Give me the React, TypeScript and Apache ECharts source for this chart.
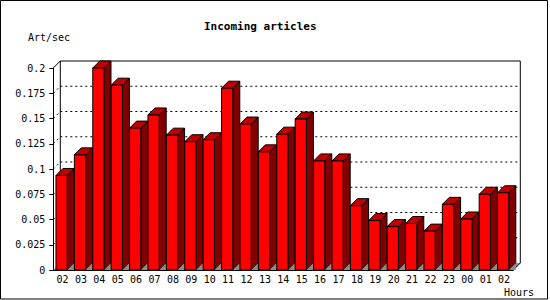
import React, { useEffect, useRef } from "react";
import * as echarts from "echarts";

const hours = ["02","03","04","05","06","07","08","09","10","11","12","13","14","15","16","17","18","19","20","21","22","23","00","01","02"];
const artPerSec = [0.0936,0.114,0.2,0.183,0.1405,0.1535,0.1335,0.127,0.129,0.18,0.1445,0.117,0.1345,0.1495,0.108,0.108,0.0637,0.049,0.043,0.046,0.0385,0.065,0.0505,0.075,0.0765];
const gridTicks = [0.025,0.05,0.075,0.1,0.125,0.15,0.175];
const yMax = 0.2;
const yStep = 0.025;

const DEPTH = 7;
const FONT = "DejaVu Sans Mono";

export default function App() {
  const ref = useRef<HTMLDivElement>(null);
  useEffect(() => {
    if (!ref.current) return;
    const chart = echarts.init(ref.current, null, { renderer: "svg" });
    const d = DEPTH;
    chart.setOption({
      animation: false,
      backgroundColor: "#fff",
      title: {
        text: "Incoming articles",
        left: 204,
        top: 21,
        padding: 0,
        textStyle: { fontFamily: FONT, fontWeight: "bold", fontSize: 11, color: "#000" },
      },
      grid: { left: 53.3, right: 36.7, top: 68, bottom: 30 },
      xAxis: {
        type: "category",
        data: hours,
        z: 10,
        axisLine: { lineStyle: { color: "#000", width: 1 } },
        axisTick: { length: 4, lineStyle: { color: "#000" } },
        axisLabel: { fontFamily: FONT, fontSize: 10, color: "#000", margin: 4, interval: 0 },
      },
      yAxis: {
        type: "value",
        min: 0,
        max: yMax,
        interval: yStep,
        z: 10,
        axisLine: { show: true, lineStyle: { color: "#000", width: 1 } },
        axisTick: { show: true, length: 4, lineStyle: { color: "#000" } },
        axisLabel: { fontFamily: FONT, fontSize: 10, color: "#000", margin: 8 },
        splitLine: { show: false },
      },
      graphic: [
        { type: "rect", shape: { x: 0.5, y: 0.5, width: 547, height: 298.5 }, style: { fill: null, stroke: "#000", lineWidth: 1 }, z: 100 },
        { type: "text", x: 28, y: 32, style: { text: "Art/sec", fontFamily: FONT, fontSize: 10, fill: "#000" } },
        { type: "text", x: 504, y: 287, style: { text: "Hours", fontFamily: FONT, fontSize: 10, fill: "#000" } },
      ],
      series: [
        {
          type: "custom",
          z: 1,
          silent: true,
          data: [0],
          renderItem: (params: any, api: any) => {
            const cs = params.coordSys;
            const L = cs.x, R = cs.x + cs.width;
            const T = api.coord([0, yMax])[1];
            const B = api.coord([0, 0])[1];
            const line = (x1: number, y1: number, x2: number, y2: number, dash?: number[]) => ({
              type: "line",
              shape: { x1, y1, x2, y2 },
              style: { stroke: "#000", lineWidth: 1, lineDash: dash || null },
            });
            const children: any[] = [
              {
                type: "polygon",
                shape: { points: [[L, B], [L + d, B - d], [R + d, B - d], [R, B]] },
                style: { fill: "#8c8c8c" },
              },
            ];
            gridTicks.forEach((v) => {
              const y = api.coord([0, v])[1];
              children.push(line(L + d, y - d, R + d, y - d, [2, 3]));
              children.push(line(L, y, L + d, y - d, [2, 3]));
            });
            children.push(line(L + d, T - d, R + d, T - d));
            children.push(line(L + d, T - d, L + d, B - d));
            children.push(line(R + d, T - d, R + d, B - d));
            children.push(line(L, T, L + d, T - d));
            children.push(line(R, B, R + d, B - d));
            return { type: "group", children };
          },
        },
        {
          type: "custom",
          z: 2,
          data: artPerSec.map((v, i) => [i, v]),
          renderItem: (params: any, api: any) => {
            const i = api.value(0);
            const v = api.value(1);
            const top = api.coord([i, v]);
            const base = api.coord([i, 0]);
            const bw = api.size([1, 0])[0];
            const x0 = top[0] - bw / 2 + bw * 0.145;
            const w = bw * 0.61;
            const ty = top[1];
            const by = base[1];
            return {
              type: "group",
              children: [
                {
                  type: "polygon",
                  shape: { points: [[x0 + w, ty], [x0 + w + d, ty - d], [x0 + w + d, by - d], [x0 + w, by]] },
                  style: { fill: "#800000", stroke: "#000", lineWidth: 1 },
                },
                {
                  type: "polygon",
                  shape: { points: [[x0 + w, by], [x0 + w + d, by - d], [x0 + w + d, by]] },
                  style: { fill: "#8c8c8c" },
                },
                {
                  type: "polygon",
                  shape: { points: [[x0, ty], [x0 + d, ty - d], [x0 + w + d, ty - d], [x0 + w, ty]] },
                  style: { fill: "#c00000", stroke: "#000", lineWidth: 1 },
                },
                {
                  type: "rect",
                  shape: { x: x0, y: ty, width: w, height: by - ty },
                  style: { fill: "#ff0000", stroke: "#000", lineWidth: 1 },
                },
              ],
            };
          },
        },
      ],
    });
    return () => chart.dispose();
  }, []);
  return <div ref={ref} style={{ position: "fixed", left: 0, top: 0, width: 550, height: 300 }} />;
}
